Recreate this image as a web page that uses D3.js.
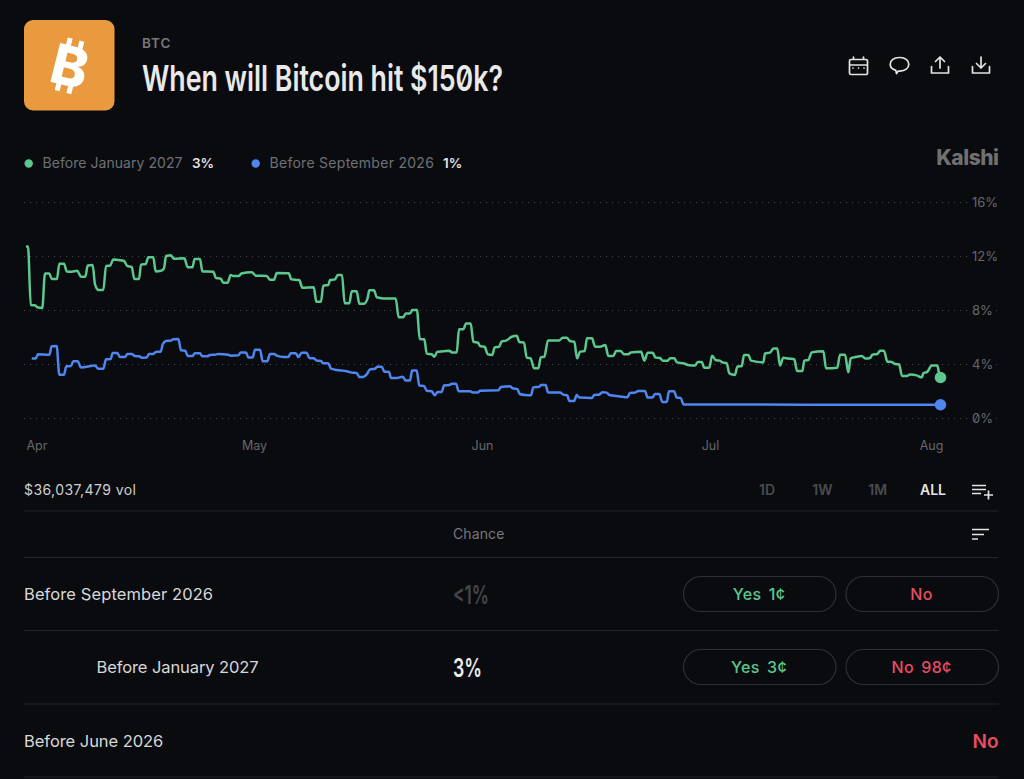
<!DOCTYPE html>
<html>
<head>
<meta charset="utf-8">
<script src="https://cdn.jsdelivr.net/npm/d3@7"></script>
<style>
html, body { margin: 0; padding: 0; background: #0a0b0f; overflow: hidden; }
svg { display: block; }
text { font-family: Inter, "Noto Sans", sans-serif; }
.slashed { font-feature-settings: "zero"; }
</style>
</head>
<body>
<div id="chart"></div>
<script>
// [days since 1 Apr, chance %]
const jan2027 = [[0,12.7],[.27,12.7],[.63,8.37],[1.2,8.35],[1.51,8.2],[2.17,8.15],[2.53,10.7],[3.11,10.7],[3.43,10.3],[4.13,10.3],[4.44,11.43],[5.07,11.43],[5.43,10.86],[6.09,10.84],[6.84,10.9],[7.33,10.47],[7.91,10.47],[8.23,11.3],[8.89,11.33],[9.2,9.9],[9.69,9.48],[10.31,9.48],[10.67,11.26],[11.2,11.28],[11.64,11.75],[12.31,11.7],[13.07,11.63],[13.51,11.26],[14.09,11.2],[14.44,10.3],[15.07,10.3],[15.33,11.36],[15.96,11.4],[16.31,11.9],[16.97,11.9],[17.29,10.86],[18,10.9],[18.4,11.09],[18.67,12],[19.29,12.05],[19.73,11.8],[21.11,11.83],[21.56,11.16],[22.17,11.16],[22.49,11.78],[23.2,11.78],[23.51,10.86],[24.97,10.84],[25.33,10.37],[25.96,10.32],[26.31,10.02],[26.89,10.02],[27.29,10.6],[27.64,10.52],[28.4,10.52],[28.71,10.7],[30.09,10.8],[30.67,10.54],[32.09,10.52],[32.53,10.25],[33.07,10.25],[33.43,10.74],[35.03,10.72],[35.37,10.27],[36.44,10.22],[36.84,9.65],[38.36,9.68],[38.71,8.62],[39.33,8.62],[39.64,9.8],[40.31,9.85],[40.53,10.22],[41.2,10.27],[41.56,10.6],[42.13,10.6],[42.49,8.5],[43.11,8.5],[43.43,9.38],[44.09,9.38],[44.44,8.47],[45.07,8.47],[45.56,8.9],[45.77,9.46],[46.4,9.46],[46.76,8.94],[47.64,8.86],[49.29,8.86],[49.69,7.46],[50.31,7.46],[50.63,7.75],[51.2,7.75],[51.51,8],[52.13,8],[52.49,5.85],[53.11,5.83],[53.43,4.77],[54.09,4.72],[54.44,4.54],[54.84,4.9],[55.64,4.94],[56.44,4.99],[56.8,4.86],[57.43,4.86],[57.73,6.57],[58.31,6.57],[58.67,7],[59.29,7],[59.64,5.65],[60.27,5.58],[60.53,5.33],[61.16,5.28],[61.56,4.72],[62.17,4.67],[62.49,5.23],[63.07,5.28],[63.43,5.68],[64,5.73],[64.76,6.02],[65.43,6.1],[65.77,5.63],[66.4,5.58],[66.76,4.47],[67.29,4.42],[67.73,3.68],[68.31,3.68],[68.63,4.49],[69.11,4.54],[69.6,5.75],[71.11,5.75],[71.56,5.95],[72.09,5.95],[72.53,5.7],[73.11,5.65],[73.47,4.42],[73.87,4.91],[74.49,4.96],[74.8,5.9],[75.47,5.9],[75.87,5.28],[76.53,5.28],[77.24,5.4],[77.64,4.59],[78.31,4.59],[78.67,4.96],[79.29,4.96],[79.73,4.72],[80.31,4.72],[80.63,4.86],[82,4.91],[82.44,4.25],[82.89,4.84],[83.56,4.84],[83.91,4.49],[84.53,4.44],[84.89,4.25],[85.56,4.25],[85.87,4.42],[86.44,4.42],[86.8,4.12],[87.64,4.05],[88.44,3.9],[89.2,3.88],[89.56,4.15],[90.09,4.15],[90.44,3.73],[91.11,3.73],[91.47,4.62],[92,4.27],[92.53,4.25],[92.84,4.12],[93.43,4.05],[93.77,3.31],[94.53,3.19],[94.84,3.8],[95.43,3.85],[95.73,4.67],[96.31,4.67],[96.67,4.25],[98.31,4.12],[98.53,4.79],[99.2,4.84],[99.64,5.14],[100.17,5.14],[100.53,3.88],[100.97,4.47],[101.64,4.4],[102.44,4.35],[102.8,3.48],[103.51,3.48],[103.77,4.25],[104.31,4.3],[104.76,4.86],[106.31,4.94],[106.67,3.68],[108.17,3.73],[108.53,4.69],[109.2,4.69],[109.64,3.38],[109.96,4.42],[110.76,4.54],[111.43,4.59],[111.96,4.4],[112.53,4.44],[112.84,4.69],[113.51,4.74],[113.87,4.99],[114.4,4.99],[114.84,4.17],[115.43,4.15],[115.87,4],[116.4,3.98],[116.8,3.11],[117.43,3.11],[117.87,3.23],[118.76,3.16],[119.43,3.01],[119.64,3.31],[120.17,3.43],[120.76,3.88],[121.51,3.88],[121.77,3.19],[121.93,3]];

const sep2026 = [[.76,4.4],[1.29,4.4],[1.6,4.72],[3.11,4.69],[3.43,5.31],[4.09,5.33],[4.44,3.21],[5.07,3.21],[5.37,3.83],[6,3.85],[6.31,4.2],[6.89,4.2],[7.33,3.75],[9.2,3.88],[9.64,3.65],[10.31,3.65],[10.67,4.35],[11.29,4.37],[11.56,4.81],[12.17,4.81],[12.53,4.52],[13.2,4.52],[13.51,4.74],[14.09,4.74],[14.53,4.59],[15.11,4.57],[15.43,4.47],[16.09,4.49],[16.4,4.74],[16.97,4.74],[17.29,4.89],[17.96,4.91],[18.23,5.46],[18.67,5.7],[19.29,5.73],[19.64,5.83],[20.31,5.85],[20.67,5.01],[21.24,4.99],[21.56,4.59],[22.17,4.59],[22.53,4.79],[23.2,4.79],[23.51,4.57],[24.17,4.57],[24.53,4.67],[25.2,4.69],[25.64,4.74],[26.97,4.69],[27.29,4.62],[28.31,4.64],[28.63,4.86],[29.33,4.86],[29.64,4.49],[30.23,4.49],[30.53,5.06],[31.2,5.06],[31.56,4.2],[32.17,4.2],[32.53,4.74],[33.11,4.74],[33.43,4.62],[34.31,4.52],[34.97,4.52],[35.29,4.79],[35.96,4.79],[36.31,4.52],[36.76,4.84],[37.43,4.84],[37.77,4.44],[38.4,4.42],[38.76,4.25],[39.33,4.22],[39.64,4.05],[40.31,4.05],[40.67,3.65],[41.43,3.56],[42.76,3.46],[43.43,3.36],[44.09,3.33],[44.44,3.04],[44.97,3.04],[45.43,3.23],[45.87,3.6],[46.53,3.65],[46.84,3.8],[47.43,3.8],[47.77,3.43],[48.4,3.41],[48.67,2.96],[49.43,2.96],[50.23,3.06],[50.63,2.77],[51.2,2.77],[51.47,3.51],[52.09,3.51],[52.44,2.4],[53.07,2.37],[53.43,2.02],[54.09,1.98],[54.49,1.68],[54.89,1.93],[55.43,1.93],[55.73,2.4],[56.44,2.44],[56.8,2.54],[57.33,2.54],[57.69,1.98],[59.2,1.98],[59.64,1.88],[60.23,1.88],[60.53,2.02],[62.97,2.05],[63.33,2.3],[64.53,2.35],[64.89,2.2],[65.51,2.15],[65.83,1.78],[66.53,1.7],[67.33,1.68],[67.64,2.27],[68.44,2.32],[68.67,2.44],[69.29,2.44],[69.6,1.88],[71.2,1.88],[71.64,1.73],[72.17,1.68],[72.44,1.26],[73.07,1.26],[73.43,1.7],[73.77,1.51],[75.43,1.48],[75.77,1.7],[76.4,1.73],[76.89,1.9],[77.43,1.88],[77.77,1.7],[79.2,1.6],[80.17,1.53],[80.53,1.85],[81.2,1.88],[81.64,2],[82.53,2],[82.89,1.51],[83.51,1.51],[83.87,1.78],[84.44,1.78],[84.84,1.19],[85.43,1.19],[85.73,1.98],[86.4,1.98],[86.76,1.51],[87.29,1.48],[87.69,1],[121.93,.98]];

const monthDays = [0, 30.4, 60.8, 91.2, 120.67];
const monthLabels = ['Apr', 'May', 'Jun', 'Jul', 'Aug'];
const pctTicks = [0, 4, 8, 12, 16];
const ranges = ['1D', '1W', '1M', 'ALL'];
const rowNames = ['Before September 2026', 'Before January 2027', 'Before June 2026'];
const rowChance = ['<1%', '3%', ''];
const yesLabels = ['Yes 1¢', 'Yes 3¢'];
const noLabels = ['No', 'No 98¢'];

const green = '#5cc78f', blue = '#4f86f0', red = '#e84c62', bg = '#0a0b0f';
const rule = '#232529';

const width = 1024, height = 779;
const svg = d3.select('#chart').append('svg')
    .attr('width', width)
    .attr('height', height);
svg.append('rect').attr('width', width).attr('height', height).attr('fill', bg);

function label(x, y, str, size, fill, weight, anchor) {
    return svg.append('text')
        .attr('x', x).attr('y', y)
        .attr('font-size', size)
        .attr('fill', fill)
        .attr('font-weight', weight || 400)
        .attr('text-anchor', anchor || 'start')
        .text(str);
}

// header
svg.append('rect').attr('x', 24).attr('y', 20).attr('width', 90.5).attr('height', 90.5).attr('rx', 9).attr('fill', '#e99a3e');
const logo = svg.append('g').attr('transform', 'translate(70,66) rotate(14)');
logo.append('text').attr('x', 0).attr('y', 20).attr('text-anchor', 'middle')
    .attr('font-size', 55).attr('font-weight', 800).attr('fill', '#fff').text('B');
[-9, 3].forEach((bx) => {
    logo.append('rect').attr('x', bx).attr('y', -27).attr('width', 5).attr('height', 9).attr('fill', '#fff');
    logo.append('rect').attr('x', bx).attr('y', 18).attr('width', 5).attr('height', 9).attr('fill', '#fff');
});

label(142, 47.5, 'BTC', 13.5, '#77787c', 600).attr('letter-spacing', 0.9);
label(142, 91, 'When will Bitcoin hit $150k?', 36, '#e9e9e9', 600)
    .attr('class', 'slashed')
    .attr('textLength', 361).attr('lengthAdjust', 'spacingAndGlyphs');

// toolbar icons
const icons = svg.append('g').attr('fill', 'none').attr('stroke', '#e4e4e4').attr('stroke-width', 1.7)
    .attr('stroke-linecap', 'round').attr('stroke-linejoin', 'round');
icons.append('path').attr('d', 'M851,59.5h15a1.5,1.5 0 0 1 1.5,1.5v12a1.5,1.5 0 0 1 -1.5,1.5h-15a1.5,1.5 0 0 1 -1.5,-1.5v-12a1.5,1.5 0 0 1 1.5,-1.5zM849.5,65h18M853.5,57v2.5M863.5,57v2.5');
icons.append('path').attr('d', 'M853,68h.01M858.5,68h.01M864,68h.01');
icons.append('path').attr('d', 'M900,57.5c5,0 8.8,2.9 8.8,6.8c0,3.9 -3.8,6.8 -8.8,6.8c-.6,0 -1.2,0 -1.8,-.1l-1.7,2.6l-.7,-3.2c-3.4,-1.1 -5.6,-3.4 -5.6,-6.1c0,-3.9 3.8,-6.8 9,-6.8z');
icons.append('path').attr('d', 'M931.5,66.5v6.5h17v-6.5M940,68v-11M935.5,61.5l4.5,-4.5l4.5,4.5');
icons.append('path').attr('d', 'M972.5,66.5v6.5h17v-6.5M981,57v11M976.5,63.5l4.5,4.5l4.5,-4.5');

// legend
label(42.5, 168, 'Before January 2027', 14, '#6f7075').attr('letter-spacing', 0.05);
label(192, 168, '3%', 13.5, '#e6e6e6', 600);
label(269.5, 168, 'Before September 2026', 14, '#6f7075').attr('letter-spacing', 0.28);
label(443, 168, '1%', 13.5, '#e6e6e6', 600);
svg.append('circle').attr('cx', 28.7).attr('cy', 163.5).attr('r', 4.2).attr('fill', green);
svg.append('circle').attr('cx', 255.7).attr('cy', 163.5).attr('r', 4.2).attr('fill', blue);
label(998.5, 165, 'Kalshi', 21, '#707070', 800, 'end').attr('letter-spacing', -0.5);

// scales
const x = d3.scaleLinear().domain([0, 121.93]).range([26, 940.5]);
const y = d3.scaleLinear().domain([0, 16]).range([418, 202]);

// y axis, gridlines run under the labels
const yAxis = d3.axisRight(y)
    .tickValues(pctTicks)
    .tickSize(974)
    .tickPadding(-26)
    .tickFormat((d) => d + '%');
const gy = svg.append('g').attr('transform', 'translate(24,0)').call(yAxis);
gy.select('.domain').remove();
gy.selectAll('line').attr('stroke', '#48494d').attr('stroke-dasharray', '1 5');
gy.selectAll('text')
    .attr('class', 'slashed')
    .attr('font-size', 13)
    .attr('font-family', 'Inter, sans-serif')
    .attr('fill', '#66676b')
    .attr('stroke', bg).attr('stroke-width', 4).attr('paint-order', 'stroke');

// x axis
const xAxis = d3.axisBottom(x)
    .tickValues(monthDays)
    .tickSize(0)
    .tickPadding(0)
    .tickFormat((d, i) => monthLabels[i]);
const gx = svg.append('g').attr('transform', 'translate(0,446)').call(xAxis);
gx.select('.domain').remove();
gx.selectAll('text')
    .attr('font-size', 12.5)
    .attr('font-family', 'Inter, sans-serif')
    .attr('fill', '#66676b')
    .attr('dy', '0.3em')
    .attr('text-anchor', (d, i) => (i === 0 ? 'start' : 'middle'));

// lines
const line = d3.line()
    .x((d) => x(d[0]))
    .y((d) => y(d[1]))
    .curve(d3.curveMonotoneX);

[[jan2027, green], [sep2026, blue]].forEach(([series, colour]) => {
    svg.append('path')
        .datum(series)
        .attr('fill', 'none')
        .attr('stroke', colour)
        .attr('stroke-width', 2.5)
        .attr('stroke-linejoin', 'round')
        .attr('d', line);
    const last = series[series.length - 1];
    svg.append('circle')
        .attr('cx', x(last[0]))
        .attr('cy', y(last[1]))
        .attr('r', 5.8)
        .attr('fill', colour);
});

// volume and range row
label(24, 495, '$36,037,479 vol', 14, '#cfcfcf').attr('letter-spacing', 0.42);
const rangeX = d3.scalePoint().domain(ranges).range([767, 933]);
ranges.forEach((r) => {
    label(rangeX(r), 495, r, 14, r === 'ALL' ? '#e4e4e4' : '#4a4b4f', 600, 'middle');
});
const menu = svg.append('g').attr('stroke', '#e4e4e4').attr('stroke-width', 1.7).attr('fill', 'none');
menu.append('path').attr('d', 'M972,485.5h14M972,489.5h14M972,493.5h9M984,495h9M988.5,490.5v9');
menu.append('path').attr('d', 'M972,529.5h17M972,534.5h12M972,539h6');

// table
[511, 557.5, 630.5, 704, 777].forEach((ry) => {
    svg.append('line').attr('x1', 24).attr('x2', 998.5).attr('y1', ry).attr('y2', ry)
        .attr('stroke', rule).attr('stroke-width', 1.2);
});
label(453, 539, 'Chance', 14, '#77787c').attr('letter-spacing', 0.1);

const rowMid = [594, 667, 741];
const rowX = [24, 96.5, 24];
const rowSpacing = [0.1, -0.1, -0.05];
rowNames.forEach((name, i) => {
    label(rowX[i], rowMid[i] + 6, name, 16.5, '#d8d8d8').attr('letter-spacing', rowSpacing[i]);
});
label(453, 603.5, rowChance[0], 25, '#45464a', 600).attr('textLength', 36).attr('lengthAdjust', 'spacingAndGlyphs');
label(453, 677, rowChance[1], 25, '#ececec', 600).attr('textLength', 29).attr('lengthAdjust', 'spacingAndGlyphs');

function button(bx, i, str, colour) {
    svg.append('rect')
        .attr('x', bx).attr('y', rowMid[i] - 17.5)
        .attr('width', 152.5).attr('height', 35).attr('rx', 17.5)
        .attr('fill', 'none').attr('stroke', '#2e3034').attr('stroke-width', 1.2);
    label(bx + 75.5, rowMid[i] + 6, str, 16, colour, 500, 'middle')
        .attr('letter-spacing', 0.25)
        .attr('word-spacing', 3);
}
yesLabels.forEach((s, i) => button(683.5, i, s, green));
noLabels.forEach((s, i) => button(846, i, s, red));
label(998.5, 747.5, 'No', 19, red, 600, 'end');
</script>
</body>
</html>
